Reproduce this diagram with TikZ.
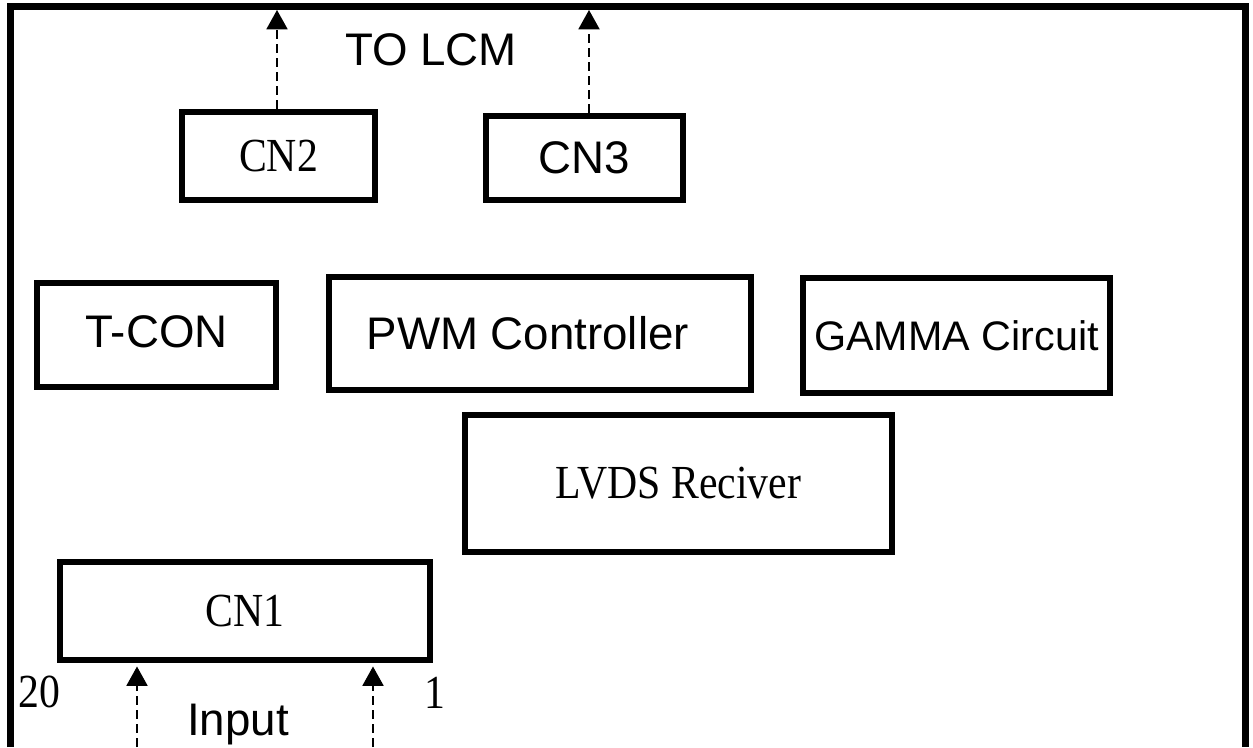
\documentclass[tikz,border=0pt]{standalone}
\usepackage{fontspec}
\setmainfont{Liberation Serif}[FakeStretch=0.88]
\setsansfont{Liberation Sans}
\usetikzlibrary{arrows.meta}

\tikzset{
  texte/.style={inner sep=0pt,font=\fontsize{27}{31}\selectfont},
  sans/.style={font=\sffamily\fontsize{26}{30}\selectfont},
  bloc/.style={draw,line width=3.4pt,texte},
  taille/.style 2 args={minimum width=#1*0.02cm,minimum height=#2*0.02cm},
  lien/.style={line width=0.9pt,dash pattern=on 5pt off 3pt,-{Triangle[width=12pt,length=11pt]}},
}

\begin{document}
\begin{tikzpicture}[x=0.02cm,y=-0.02cm]
  \pgfmathsetmacro{\gauche}{10.5}
  \pgfmathsetmacro{\droite}{1245.5}
  \pgfmathsetmacro{\haut}{6.5}
  \pgfmathsetmacro{\bas}{747}
  \useasboundingbox (0,0) rectangle (1253,747);
  % cadre ouvert en bas
  \draw[line width=3.8pt] (\gauche,\bas) -- (\gauche,\haut) -- (\droite,\haut) -- (\droite,\bas);
  % blocs
  \node[bloc,taille={193}{88}] (cntwo) at (278.5,156) {CN2};
  \node[bloc,sans,taille={197}{84}] (cnthree) at (584.5,158) {CN3};
  \node[bloc,sans,taille={239}{104}] (tcon) at (156.5,335) {\raisebox{4pt}{T-CON}};
  \node[bloc,sans,taille={422}{113}] (pwm) at (540,333.5) {PWM Controller\kern14pt};
  \node[bloc,sans,font=\sffamily\fontsize{23.5}{28}\selectfont,taille={307}{115}] (gamma) at (956.5,335.5) {GAMMA Circuit};
  \node[bloc,taille={427}{137}] (lvds) at (678.5,483.5) {LVDS Reciver};
  \node[bloc,taille={370}{98}] (cnone) at (245,611) {\raisebox{-3pt}{CN1}};
  % textes
  \node[texte,sans,anchor=base] (tolcm) at (431,65) {TO LCM};
  \node[texte,sans,anchor=base] (input) at (238,735) {Input};
  \node[texte,anchor=base] (vingt) at (39,707) {20};
  \node[texte,anchor=base] (un) at (435,708) {1};
  % fleches vers le LCM
  \coordinate (lcmtwo) at (277,10);
  \coordinate (lcmthree) at (589,10);
  \draw[lien] (cntwo.north -| lcmtwo) -- (lcmtwo);
  \draw[lien] (cnthree.north -| lcmthree) -- (lcmthree);
  % entrees
  \foreach \x/\nom in {137/gauche,373/droite} {
    \coordinate (in\nom) at (\x,\bas);
    \draw[lien,shorten >=2pt] (in\nom) -- (cnone.south -| in\nom);
  }
\end{tikzpicture}
\end{document}
